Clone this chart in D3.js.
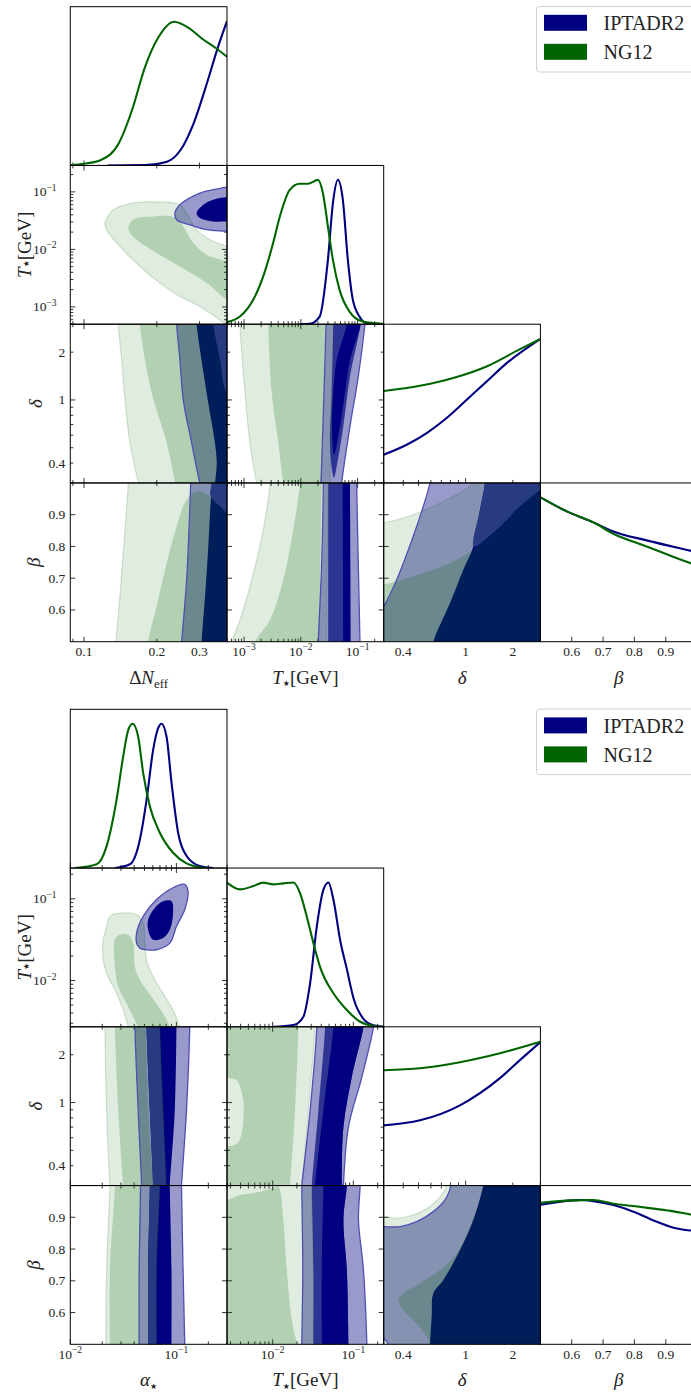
<!DOCTYPE html>
<html><head><meta charset="utf-8">
<script src="https://cdn.jsdelivr.net/npm/d3@7"></script>
<style>
body{margin:0;background:#fff;}
svg{display:block;}
text{font-family:"Liberation Serif","Times New Roman",serif;}
</style>
</head><body>
<script>
// ---------------- DATA ----------------
const seriesNames = ["IPTADR2", "NG12"];
const seriesColors = ["#000080", "#006400"];

// axis domains and tick labels
const A_dneffDomain = [0.0878, 0.39];
const A_tstarDomain = [5.01e-4, 0.288];
const deltaDomain = [0.3, 3.0];
const betaDomain = [0.5, 1.0];
const B_alphaDomain = [0.01, 0.3];
const B_tstarDomain = [0.002716, 0.2377];

const A_dneffLabels = [0.1, 0.2, 0.3];
const A_tstarLabels = [1e-3, 1e-2, 1e-1];
const deltaLabels = [0.4, 1, 2];
const betaLabels = [0.6, 0.7, 0.8, 0.9];
const B_alphaLabels = [1e-2, 1e-1];
const B_tstarLabels = [1e-2, 1e-1];

// ---- 1D marginals (value, normalised density) : plot A ----
const A_d0_blue = [[0.125,0],[0.1787,0.002],[0.2203,0.026],[0.2506,0.107],[0.2842,0.294],[0.3224,0.571],[0.3579,0.82],[0.39,1.0]];
const A_d0_green = [[0.0879,0.003],[0.1,0.012],[0.1176,0.038],[0.1395,0.156],[0.158,0.384],[0.1787,0.682],[0.2034,0.89],[0.2355,0.996],[0.2716,0.952],[0.309,0.876],[0.3504,0.814],[0.39,0.753]];
const A_d1_blue = [[0.00957,0],[0.01432,0.003],[0.02148,0.053],[0.03,0.446],[0.03673,0.839],[0.04498,1.0],[0.05495,0.862],[0.0673,0.446],[0.08241,0.169],[0.1079,0.053],[0.1416,0.007],[0.2754,0]];
const A_d1_green = [[0.000501,0.014],[0.000847,0.053],[0.00145,0.169],[0.00217,0.33],[0.00325,0.562],[0.00427,0.746],[0.00638,0.931],[0.00957,0.973],[0.01337,0.973],[0.02004,1.0],[0.02449,0.908],[0.03,0.677],[0.03673,0.446],[0.04808,0.238],[0.07211,0.087],[0.1233,0.018],[0.2767,0.002]];
const A_d2_blue = [[0.3,0.196],[0.4205,0.265],[0.5642,0.346],[0.7568,0.45],[1.016,0.576],[1.362,0.703],[1.828,0.83],[2.98,0.997]];
const A_d2_green = [[0.3,0.637],[0.511,0.673],[0.834,0.727],[1.36,0.807],[2.223,0.927],[2.98,0.997]];
const A_d3_blue = [[0.5,1.0],[0.584,0.903],[0.669,0.827],[0.733,0.764],[0.839,0.702],[0.978,0.631],[1.0,0.62]];
const A_d3_green = [[0.5,1.0],[0.584,0.903],[0.669,0.827],[0.733,0.748],[0.839,0.66],[0.978,0.545],[1.0,0.53]];

// ---- 1D marginals : plot B ----
const B_d0_blue = [[0.02636,0],[0.0365,0.026],[0.0453,0.198],[0.0524,0.474],[0.0604,0.819],[0.0673,0.969],[0.0724,1.0],[0.0807,0.912],[0.09,0.591],[0.1038,0.245],[0.1245,0.085],[0.166,0.014],[0.2213,0]];
const B_d0_green = [[0.01107,0],[0.0177,0.026],[0.022,0.152],[0.0273,0.474],[0.0315,0.772],[0.0352,0.958],[0.0387,1.0],[0.0436,0.912],[0.0486,0.659],[0.0562,0.428],[0.0698,0.245],[0.0931,0.106],[0.1245,0.032],[0.166,0.005],[0.2,0]];
const B_d1_blue = [[0.01019,0],[0.01807,0.012],[0.02404,0.07],[0.02911,0.302],[0.03524,0.696],[0.04266,0.952],[0.04909,1.0],[0.05662,0.88],[0.0686,0.6],[0.083,0.4],[0.1002,0.2],[0.1334,0.055],[0.1774,0.01],[0.2388,0]];
const B_d1_green = [[0.002716,0.999],[0.003936,0.952],[0.005754,0.975],[0.007656,0.999],[0.01019,0.987],[0.01358,0.994],[0.01807,1.0],[0.02188,0.925],[0.02649,0.763],[0.03206,0.577],[0.03873,0.414],[0.05662,0.232],[0.08299,0.116],[0.1213,0.035],[0.1774,0.005],[0.2388,0]];
const B_d2_blue = [[0.3,0.417],[0.512,0.452],[0.92,0.556],[1.655,0.744],[2.22,0.869],[3.0,0.994]];
const B_d2_green = [[0.3,0.799],[0.512,0.813],[0.92,0.855],[1.655,0.917],[3.0,0.997]];
const B_d3_blue = [[0.5,0.967],[0.602,0.997],[0.63,1.0],[0.669,0.992],[0.733,0.965],[0.797,0.919],[0.861,0.858],[0.925,0.808],[0.978,0.789],[1.0,0.785]];
const B_d3_green = [[0.5,0.981],[0.602,0.997],[0.669,1.0],[0.733,0.974],[0.797,0.958],[0.861,0.94],[0.925,0.921],[0.978,0.9],[1.0,0.892]];

// ---- 2D credible-region outlines (x value, y value) : plot A ----
const A10_g2 = [[0.1221,0.0287],[0.1322,0.0489],[0.1598,0.064],[0.2061,0.0666],[0.2492,0.0598],[0.2657,0.0429],[0.2922,0.022],[0.3317,0.0147],[0.39,0.01125],[0.45,0.009],[0.45,0.0003],[0.39,0.00048],[0.3015,0.00102],[0.2492,0.00152],[0.2061,0.0026],[0.1703,0.00505],[0.1408,0.01125],[0.1241,0.022]];
const A10_g1 = [[0.1524,0.0235],[0.1598,0.0328],[0.1934,0.0374],[0.2339,0.0365],[0.2572,0.0251],[0.2829,0.0129],[0.3214,0.00807],[0.39,0.00617],[0.45,0.005],[0.45,0.0011],[0.39,0.00133],[0.3214,0.0026],[0.2492,0.00505],[0.1997,0.00864],[0.1651,0.0147],[0.1549,0.0193]];
const A10_b2 = [[0.2377,0.0429],[0.2492,0.0598],[0.3015,0.0955],[0.3535,0.1121],[0.39,0.1214],[0.45,0.125],[0.45,0.019],[0.39,0.0205],[0.3214,0.022],[0.2742,0.0268],[0.2416,0.0328]];
const A10_b1 = [[0.2922,0.0429],[0.3112,0.0598],[0.3423,0.073],[0.39,0.0813],[0.45,0.082],[0.45,0.03],[0.39,0.0306],[0.3423,0.0306],[0.3015,0.0351]];

const A20_g2 = [[0.1386,3.5],[0.1386,3.0],[0.1431,1.789],[0.1477,1.002],[0.1549,0.5354],[0.1677,0.3],[0.17,0.27],[0.45,0.27],[0.45,3.5]];
const A20_g1 = [[0.1703,3.5],[0.1703,3.0],[0.1787,1.789],[0.1905,1.104],[0.2197,0.5354],[0.2377,0.3],[0.24,0.27],[0.45,0.27],[0.45,0.9],[0.39,1.104],[0.3648,1.789],[0.3423,3.0],[0.3423,3.5]];
const A20_b2 = [[0.2416,3.5],[0.2416,3.0],[0.2492,1.789],[0.2572,1.002],[0.2787,0.5354],[0.3015,0.3],[0.31,0.27],[0.45,0.27],[0.45,3.5]];
const A20_b1 = [[0.2922,3.5],[0.2922,3.0],[0.3214,1.104],[0.3535,0.42],[0.3479,0.3],[0.345,0.27],[0.45,0.27],[0.45,3.5]];
const A20_bm = [[0.3423,3.5],[0.3423,3.0],[0.3648,1.789],[0.39,1.104],[0.45,1.0],[0.45,3.5]];

const A30_g2 = [[0.1524,1.05],[0.1524,1.0],[0.1477,0.853],[0.1408,0.643],[0.1356,0.5],[0.135,0.45],[0.45,0.45],[0.45,1.05]];
const A30_g1 = [[0.1843,0.45],[0.1843,0.5],[0.1997,0.611],[0.2197,0.748],[0.2416,0.863],[0.2657,0.947],[0.2967,0.9735],[0.3317,0.9578],[0.3648,0.926],[0.39,0.9055],[0.45,0.87],[0.45,0.45]];
const A30_b2 = [[0.276,1.05],[0.276,1.0],[0.2716,0.853],[0.2657,0.695],[0.2533,0.5],[0.25,0.45],[0.45,0.45],[0.45,1.05]];
const A30_b1 = [[0.3371,1.05],[0.3371,1.0],[0.3317,0.9055],[0.3264,0.8],[0.3164,0.643],[0.3064,0.5],[0.305,0.45],[0.45,0.45],[0.45,1.05]];
const A30_bm = [[0.3371,1.05],[0.3371,1.0],[0.3332,0.96],[0.3648,0.926],[0.39,0.9055],[0.45,0.878],[0.45,1.05]];

const A21_g2 = [[0.000849,3.5],[0.000849,3.0],[0.00104,1.104],[0.00127,0.5354],[0.00167,0.3],[0.0018,0.27],[0.0326,0.27],[0.03261,0.3],[0.03494,1.104],[0.03728,3.0],[0.0375,3.5]];
const A21_g1 = [[0.00267,3.5],[0.00267,3.0],[0.00307,1.104],[0.00401,0.5354],[0.00491,0.3],[0.0052,0.27],[0.023,0.27],[0.0233,0.3],[0.02557,1.104],[0.02662,3.0],[0.0267,3.5]];
const A21_b2 = [[0.02773,3.5],[0.02773,3.0],[0.02557,1.104],[0.02264,0.3],[0.0224,0.27],[0.0515,0.27],[0.05241,0.3],[0.07335,0.681],[0.1027,1.404],[0.1348,3.0],[0.14,3.5]];
const A21_bm = [[0.03728,3.5],[0.03728,3.0],[0.03494,1.104],[0.03261,0.5354],[0.03537,0.3636],[0.03835,0.3238],[0.04279,0.3815],[0.05591,0.681],[0.07335,1.404],[0.1132,3.0],[0.115,3.5]];
const A21_b1 = [[0.06419,3.5],[0.06419,3.0],[0.04279,1.789],[0.03728,1.104],[0.0354,0.681],[0.0385,0.4519],[0.04891,0.681],[0.0599,1.104],[0.07335,1.789],[0.1132,3.0],[0.115,3.5]];

const A31_g2 = [[0.002864,1.05],[0.002864,1.0],[0.002183,0.853],[0.001364,0.695],[0.000849,0.569],[0.000606,0.5],[0.0005,0.45],[0.029,0.45],[0.02852,0.5],[0.03045,1.0],[0.031,1.05]];
const A31_g1 = [[0.00966,1.05],[0.00966,1.0],[0.00737,0.853],[0.00491,0.695],[0.002864,0.569],[0.00156,0.5],[0.0013,0.45],[0.021,0.45],[0.02113,0.5],[0.0233,1.0],[0.0234,1.05]];
const A31_b2 = [[0.02485,1.05],[0.02485,1.0],[0.0233,0.748],[0.0203,0.5],[0.02,0.45],[0.111,0.45],[0.11,0.5],[0.1027,0.748],[0.09627,1.0],[0.096,1.05]];
const A31_bm = [[0.03045,1.05],[0.03045,1.0],[0.0303,0.75],[0.0305,0.5],[0.0305,0.45],[0.06,0.45],[0.0599,0.5],[0.0595,0.75],[0.0599,1.0],[0.0599,1.05]];
const A31_b1 = [[0.05458,1.05],[0.05458,1.0],[0.0552,0.75],[0.05591,0.5],[0.056,0.45],[0.0757,0.45],[0.07543,0.5],[0.0745,0.75],[0.07335,1.0],[0.0733,1.05]];

const A32_g2 = [[0.27,0.87],[0.3,0.874],[0.4633,0.9],[0.7568,0.947],[1.119,1.0],[1.2,1.05],[3.5,1.05],[3.5,0.45],[0.27,0.45]];
const A32_g1 = [[0.27,0.675],[0.3,0.68],[0.4633,0.706],[0.7568,0.743],[1.119,0.79],[1.578,0.853],[2.223,0.926],[3.013,0.979],[3.5,1.0],[3.5,0.45],[0.27,0.45]];
const A32_b2 = [[0.27,0.58],[0.3,0.611],[0.3631,0.695],[0.4633,0.832],[0.5366,0.926],[0.5923,1.0],[0.61,1.05],[3.5,1.05],[3.5,0.45],[0.27,0.45]];
const A32_b1 = [[1.329,1.05],[1.329,1.0],[1.235,0.916],[1.119,0.8],[0.966,0.727],[0.7946,0.622],[0.6217,0.5],[0.6,0.45],[3.5,0.45],[3.5,1.05]];
const A32_bm = [[1.329,1.05],[1.329,1.0],[1.235,0.916],[1.13,0.8],[1.578,0.853],[2.223,0.926],[3.013,0.979],[3.5,1.0],[3.5,1.05]];

// ---- 2D credible-region outlines : plot B ----
const B10_g2 = [[0.022,0.046],[0.02363,0.061],[0.03152,0.0672],[0.04214,0.0641],[0.04861,0.0506],[0.05044,0.0315],[0.05233,0.0179],[0.06037,0.0112],[0.07497,0.00697],[0.09311,0.00435],[0.1076,0.00271],[0.1156,0.00204],[0.03645,0.00204],[0.03513,0.00271],[0.03152,0.00435],[0.02732,0.00697],[0.022,0.0123],[0.02043,0.0179],[0.02043,0.0315]];
const B10_g1 = [[0.02634,0.0315],[0.02934,0.0363],[0.03513,0.0363],[0.03915,0.0287],[0.04062,0.0148],[0.04525,0.01016],[0.05833,0.00633],[0.07497,0.00396],[0.08668,0.00271],[0.08994,0.00204],[0.04861,0.00204],[0.04361,0.00271],[0.03513,0.00477],[0.02829,0.00841],[0.02634,0.0148]];
const B10_b2 = [[0.04214,0.0287],[0.04214,0.0381],[0.04861,0.061],[0.06499,0.098],[0.09311,0.1364],[0.1199,0.1498],[0.1288,0.1239],[0.1199,0.0738],[0.1002,0.046],[0.08668,0.0287],[0.06499,0.0238],[0.05233,0.0238],[0.04525,0.0249]];
const B10_b1 = [[0.05417,0.0419],[0.05417,0.0556],[0.06264,0.0774],[0.07497,0.0933],[0.08994,0.0933],[0.09311,0.0672],[0.08668,0.0419],[0.07497,0.0331],[0.06037,0.0315]];

const B20_g2 = [[0.02121,3.5],[0.02121,3.0],[0.022,0.893],[0.02363,0.3],[0.024,0.27],[0.0815,0.27],[0.08067,0.3],[0.07497,0.893],[0.06982,3.0],[0.0695,3.5]];
const B20_g1 = [[0.02634,3.5],[0.02634,3.0],[0.02829,0.893],[0.03152,0.3],[0.032,0.27],[0.0608,0.27],[0.06037,0.3],[0.05417,0.893],[0.05156,3.0],[0.0514,3.5]];
const B20_b2 = [[0.04062,3.5],[0.04062,3.0],[0.04361,0.893],[0.04696,0.3],[0.047,0.27],[0.111,0.27],[0.1117,0.3],[0.1245,0.893],[0.1337,3.0],[0.134,3.5]];
const B20_b1 = [[0.05233,3.5],[0.05233,3.0],[0.0562,0.893],[0.06037,0.3],[0.0605,0.27],[0.0865,0.27],[0.08668,0.3],[0.09661,0.893],[0.1002,3.0],[0.1005,3.5]];
const B20_bm = [[0.05233,3.5],[0.05233,3.0],[0.0562,0.893],[0.06037,0.3],[0.0605,0.27],[0.0815,0.27],[0.08067,0.3],[0.07497,0.893],[0.06982,3.0],[0.0695,3.5]];

const B30_g2 = [[0.02363,1.05],[0.02363,1.0],[0.022,0.7337],[0.02167,0.5],[0.0216,0.45],[0.065,0.45],[0.06499,0.5],[0.06499,0.7337],[0.06982,1.0],[0.07,1.05]];
const B30_g1 = [[0.02634,1.05],[0.02634,1.0],[0.02363,0.7337],[0.02363,0.5],[0.0236,0.45],[0.04525,0.45],[0.04525,0.5],[0.04525,0.7337],[0.04696,1.0],[0.047,1.05]];
const B30_b2 = [[0.04594,1.05],[0.04594,1.0],[0.04457,0.7337],[0.04457,0.5],[0.0445,0.45],[0.12,0.45],[0.1199,0.5],[0.1156,0.7337],[0.1117,1.0],[0.111,1.05]];
const B30_b1 = [[0.0562,1.05],[0.0562,1.0],[0.05417,0.7337],[0.05417,0.5],[0.0541,0.45],[0.09,0.45],[0.08994,0.5],[0.08994,0.7337],[0.08668,1.0],[0.0865,1.05]];
const B30_bm = [[0.0562,1.05],[0.0562,1.0],[0.05417,0.7337],[0.05417,0.5],[0.0541,0.45],[0.065,0.45],[0.06499,0.5],[0.06499,0.7337],[0.06982,1.0],[0.07,1.05]];

const B21_g2 = [[0.0022,3.5],[0.03357,3.5],[0.03357,3.0],[0.02771,0.893],[0.02295,0.3],[0.0225,0.27],[0.0022,0.27]];
const B21_g1 = [[0.0022,3.5],[0.0209,3.5],[0.02083,3.0],[0.01895,0.893],[0.01642,0.3],[0.0162,0.27],[0.0022,0.27]];
const B21_g1hole = [[0.0024,1.5],[0.0029,1.43],[0.003583,1.381],[0.004253,1.083],[0.004326,0.772],[0.003752,0.5628],[0.0029,0.53],[0.0024,0.52]];
const B21_b2 = [[0.03523,3.5],[0.03523,3.0],[0.0291,0.893],[0.02295,0.3],[0.0225,0.27],[0.075,0.27],[0.0753,0.3],[0.08686,0.7004],[0.1274,1.449],[0.1774,3.0],[0.18,3.5]];
const B21_bm = [[0.04466,3.5],[0.04466,3.0],[0.03688,0.893],[0.03054,0.3],[0.0303,0.27],[0.0718,0.27],[0.07194,0.3],[0.0753,0.7004],[0.09574,1.449],[0.1334,3.0],[0.135,3.5]];
const B21_b1 = [[0.0566,3.5],[0.0566,3.0],[0.04254,0.893],[0.03357,0.3],[0.0334,0.27],[0.0718,0.27],[0.07194,0.3],[0.0753,0.7004],[0.09574,1.449],[0.1334,3.0],[0.135,3.5]];

const B31_g2 = [[0.0022,1.05],[0.0315,1.05],[0.03054,1.0],[0.03197,0.7337],[0.03197,0.5],[0.032,0.45],[0.0022,0.45]];
const B31_g1 = [[0.0022,0.954],[0.002716,0.9548],[0.003939,0.9706],[0.005758,0.976],[0.008445,0.9864],[0.01176,0.9968],[0.01235,0.9864],[0.01357,0.8917],[0.01495,0.7337],[0.01725,0.5758],[0.01989,0.5],[0.0205,0.45],[0.0022,0.45]];
const B31_b2 = [[0.02295,1.05],[0.02295,1.0],[0.02361,0.7337],[0.02295,0.5],[0.0229,0.45],[0.148,0.45],[0.147,0.5],[0.1334,0.7337],[0.1156,0.8917],[0.1214,1.0],[0.122,1.05]];
const B31_bm = [[0.03054,1.05],[0.03054,1.0],[0.03197,0.7337],[0.03197,0.5],[0.032,0.45],[0.087,0.45],[0.08686,0.5],[0.08301,0.7337],[0.0753,0.8917],[0.08301,1.0],[0.083,1.05]];
const B31_b1 = [[0.04254,1.05],[0.04254,1.0],[0.04063,0.7337],[0.04063,0.5],[0.0406,0.45],[0.087,0.45],[0.08686,0.5],[0.08301,0.7337],[0.0753,0.8917],[0.08301,1.0],[0.083,1.05]];

const B32_g2 = [[0.27,0.9],[0.3,0.9021],[0.3631,0.897],[0.4633,0.9075],[0.5923,0.9337],[0.7034,0.9706],[0.7568,1.0],[0.78,1.05],[3.5,1.05],[3.5,0.45],[0.27,0.45]];
const B32_b2 = [[0.27,0.87],[0.3,0.8705],[0.3811,0.8705],[0.4871,0.8863],[0.6217,0.9179],[0.7383,0.9548],[0.8064,1.0],[0.83,1.05],[3.5,1.05],[3.5,0.45],[0.33,0.45],[0.3209,0.5],[0.3,0.518],[0.27,0.53]];
const B32_g1 = [[1.33,1.05],[1.296,1.0],[1.235,0.9548],[1.066,0.8705],[0.8768,0.7864],[0.6859,0.7337],[0.5113,0.6917],[0.4,0.6601],[0.3716,0.639],[0.4,0.6074],[0.4871,0.5654],[0.5642,0.5231],[0.5923,0.5],[0.6,0.45],[3.5,0.45],[3.5,1.05]];
const B32_b1 = [[1.33,1.05],[1.296,1.0],[1.119,0.8917],[0.9203,0.7969],[0.7201,0.7022],[0.6217,0.6601],[0.6071,0.5862],[0.5923,0.5],[0.59,0.45],[3.5,0.45],[3.5,1.05]];

// ---------------- CONFIG ----------------
const plotA = {
  top: 6.7,
  params: [
    {type:"log", domain:A_dneffDomain, labels:A_dneffLabels, fmt:"plain"},
    {type:"log", domain:A_tstarDomain, labels:A_tstarLabels, fmt:"exp"},
    {type:"log", domain:deltaDomain, labels:deltaLabels, fmt:"plain"},
    {type:"lin", domain:betaDomain, labels:betaLabels, fmt:"plain"}
  ],
  names: [
    [{t:"Δ"},{t:"N",i:1},{t:"eff",sub:1}],
    [{t:"T",i:1},{t:"★",sub:1,star:1},{t:"[GeV]"}],
    [{t:"δ",i:1}],
    [{t:"β",i:1}]
  ],
  ylabX: [0, 23.5, 35, 33],
  diag: [[A_d0_blue,A_d0_green],[A_d1_blue,A_d1_green],[A_d2_blue,A_d2_green],[A_d3_blue,A_d3_green]],
  panels: [
    {r:1,c:0,layers:[["b2",A10_b2],["b1",A10_b1],["g2",A10_g2],["g1",A10_g1]]},
    {r:2,c:0,layers:[["b2",A20_b2],["b1",A20_b1],["bm",A20_bm],["g2",A20_g2],["g1",A20_g1]]},
    {r:3,c:0,layers:[["b2",A30_b2],["b1",A30_b1],["bm",A30_bm],["g2",A30_g2],["g1",A30_g1]]},
    {r:2,c:1,layers:[["b2",A21_b2],["bm",A21_bm],["b1",A21_b1],["g2",A21_g2],["g1",A21_g1]]},
    {r:3,c:1,layers:[["b2",A31_b2],["bm",A31_bm],["b1",A31_b1],["g2",A31_g2],["g1",A31_g1]]},
    {r:3,c:2,layers:[["b2",A32_b2],["b1",A32_b1],["bm",A32_bm],["g2",A32_g2],["g1",A32_g1]]}
  ]
};
const plotB = {
  top: 709.3,
  params: [
    {type:"log", domain:B_alphaDomain, labels:B_alphaLabels, fmt:"exp"},
    {type:"log", domain:B_tstarDomain, labels:B_tstarLabels, fmt:"exp"},
    {type:"log", domain:deltaDomain, labels:deltaLabels, fmt:"plain"},
    {type:"lin", domain:betaDomain, labels:betaLabels, fmt:"plain"}
  ],
  names: [
    [{t:"α",i:1},{t:"★",sub:1,star:1}],
    [{t:"T",i:1},{t:"★",sub:1,star:1},{t:"[GeV]"}],
    [{t:"δ",i:1}],
    [{t:"β",i:1}]
  ],
  ylabX: [0, 23.5, 35, 33],
  diag: [[B_d0_blue,B_d0_green],[B_d1_blue,B_d1_green],[B_d2_blue,B_d2_green],[B_d3_blue,B_d3_green]],
  panels: [
    {r:1,c:0,layers:[["b2",B10_b2],["b1",B10_b1],["g2",B10_g2],["g1",B10_g1]]},
    {r:2,c:0,layers:[["b2",B20_b2],["b1",B20_b1],["bm",B20_bm],["g2",B20_g2],["g1",B20_g1]]},
    {r:3,c:0,layers:[["b2",B30_b2],["b1",B30_b1],["bm",B30_bm],["g2",B30_g2],["g1",B30_g1]]},
    {r:2,c:1,layers:[["b2",B21_b2],["bm",B21_bm],["b1",B21_b1],["g2",B21_g2],["g1",B21_g1,B21_g1hole]]},
    {r:3,c:1,layers:[["b2",B31_b2],["bm",B31_bm],["b1",B31_b1],["g2",B31_g2],["g1",B31_g1]]},
    {r:3,c:2,layers:[["b2",B32_b2],["b1",B32_b1],["g2",B32_g2],["g1",B32_g1]]}
  ]
};

// ---------------- DRAWING ----------------
const W = 691, H = 1394;
const GX = 70.3, CW = 156.7, RH = 158.75;
const FONT = "Liberation Serif";
const svg = d3.select("body").append("svg").attr("width", W).attr("height", H)
  .attr("font-family", FONT);
svg.append("rect").attr("width", W).attr("height", H).attr("fill", "#fff");
const defs = svg.append("defs");
let clipN = 0;

const STY = {
  b2: {fill:"#9999cc"},
  bm: {fill:"#2e3494"},
  b1: {fill:"#000080"},
  g2: {fill:"#006400", "fill-opacity":0.125, stroke:"#006400", "stroke-opacity":0.16, "stroke-width":1.2},
  g1: {fill:"#006400", "fill-opacity":0.2}
};

function mkScale(p, range) {
  return (p.type === "log" ? d3.scaleLog() : d3.scaleLinear()).domain(p.domain).range(range);
}
function tickList(p) {
  if (p.type === "lin") return p.labels.map(v => ({v, major:true}));
  const out = [], a = p.domain[0], b = p.domain[1];
  for (let e = Math.floor(Math.log10(a)); e <= Math.ceil(Math.log10(b)); e++) {
    for (let m = 1; m <= 9; m++) {
      const v = m * Math.pow(10, e);
      if (v >= a * 0.995 && v <= b * 1.005) out.push({v, major: m === 1});
    }
  }
  return out;
}
function fillLabel(sel, v, fmt) {
  if (fmt === "exp") {
    const e = Math.round(Math.log10(v));
    sel.append("tspan").attr("font-family", FONT).text("10");
    sel.append("tspan").attr("font-family", FONT).attr("dy", -5.5).attr("font-size", 9.5).text("−" + Math.abs(e));
  } else {
    sel.text(String(v));
  }
}
function richText(sel, parts, size) {
  let shift = 0;
  parts.forEach(p => {
    const want = p.sub ? size * (p.star ? 0.12 : 0.22) : 0;
    const t = sel.append("tspan").text(p.t).attr("dy", want - shift);
    shift = want;
    t.attr("font-family", p.star ? "DejaVu Sans" : FONT);
    if (p.i) t.attr("font-style", "italic");
    if (p.sub) t.attr("font-size", size * (p.star ? 0.42 : 0.68));
  });
}
function clipRect(x, y, w, h) {
  const id = "cp" + (clipN++);
  defs.append("clipPath").attr("id", id).append("rect").attr("x", x).attr("y", y).attr("width", w).attr("height", h);
  return `url(#${id})`;
}

function drawPlot(P) {
  const g = svg.append("g");
  const bottom = P.top + 4 * RH;
  const tickG = g.append("g").attr("stroke", "#000").attr("stroke-width", 0.8);

  // 2D panels
  P.panels.forEach(pn => {
    const x0 = GX + pn.c * CW, y0 = P.top + pn.r * RH;
    const xs = mkScale(P.params[pn.c], [x0, x0 + CW]);
    const ys = mkScale(P.params[pn.r], [y0 + RH, y0]);
    const pg = g.append("g").attr("clip-path", clipRect(x0, y0, CW, RH));
    const line = d3.line().x(d => xs(d[0])).y(d => ys(d[1])).curve(d3.curveCatmullRomClosed.alpha(0.5));
    let b2path = null;
    pn.layers.forEach(([k, pts, hole]) => {
      let d = line(pts);
      if (hole) d += line(hole);
      const el = pg.append("path").attr("d", d).attr("fill-rule", "evenodd");
      Object.entries(STY[k]).forEach(([a, v]) => el.attr(a, v));
      if (k === "b2") b2path = d;
    });
    if (b2path) pg.append("path").attr("d", b2path).attr("fill", "none")
      .attr("stroke", "#4f4fb3").attr("stroke-width", 1.3);
  });

  // diagonal 1D panels
  P.diag.forEach((curves, i) => {
    const x0 = GX + i * CW, y0 = P.top + i * RH;
    const xs = mkScale(P.params[i], [x0, x0 + CW]);
    const ys = d3.scaleLinear().domain([0, 1.1]).range([y0 + RH, y0]);
    const pg = g.append("g").attr("clip-path", clipRect(x0, y0 - 2, CW, RH + 2));
    const line = d3.line().x(d => xs(d[0])).y(d => ys(d[1])).curve(d3.curveMonotoneX);
    curves.forEach((data, s) => {
      pg.append("path").attr("d", line(data)).attr("fill", "none")
        .attr("stroke", seriesColors[s]).attr("stroke-width", 2.1);
    });
  });

  // frames and ticks
  for (let r = 0; r < 4; r++) {
    for (let c = 0; c <= r; c++) {
      const x0 = GX + c * CW, y0 = P.top + r * RH;
      const xs = mkScale(P.params[c], [x0, x0 + CW]);
      const isDiag = r === c;
      tickList(P.params[c]).forEach(t => {
        const x = xs(t.v), L = t.major ? 5 : 3;
        tickG.append("line").attr("x1", x).attr("x2", x).attr("y1", y0 + RH).attr("y2", y0 + RH - L);
        if (!isDiag) tickG.append("line").attr("x1", x).attr("x2", x).attr("y1", y0).attr("y2", y0 + L);
      });
      if (!isDiag) {
        const ys = mkScale(P.params[r], [y0 + RH, y0]);
        tickList(P.params[r]).forEach(t => {
          const y = ys(t.v), L = t.major ? 5 : 3;
          tickG.append("line").attr("x1", x0).attr("x2", x0 + L).attr("y1", y).attr("y2", y);
          tickG.append("line").attr("x1", x0 + CW).attr("x2", x0 + CW - L).attr("y1", y).attr("y2", y);
        });
      }
      g.append("rect").attr("x", x0).attr("y", y0).attr("width", CW).attr("height", RH)
        .attr("fill", "none").attr("stroke", "#000").attr("stroke-width", 1);
    }
  }

  // tick labels: x on bottom row
  for (let c = 0; c < 4; c++) {
    const p = P.params[c];
    const xs = mkScale(p, [GX + c * CW, GX + (c + 1) * CW]);
    p.labels.forEach(v => {
      const t = g.append("text").attr("x", xs(v)).attr("y", bottom + 14.2)
        .attr("text-anchor", "middle").attr("font-size", 13.5).attr("fill", "#222")
        .attr("font-family", FONT);
      fillLabel(t, v, p.fmt);
    });
    const lab = g.append("text").attr("x", GX + (c + 0.5) * CW).attr("y", bottom + 42)
      .attr("text-anchor", "middle").attr("font-size", 19).attr("fill", "#222")
      .attr("font-family", FONT);
    richText(lab, P.names[c], 19);
  }
  // tick labels: y on left column
  for (let r = 1; r < 4; r++) {
    const p = P.params[r];
    const y0 = P.top + r * RH;
    const ys = mkScale(p, [y0 + RH, y0]);
    p.labels.forEach(v => {
      const t = g.append("text").attr("x", p.fmt === "exp" ? 56.5 : 65.3).attr("y", ys(v) + 4.5)
        .attr("text-anchor", "end").attr("font-size", 13.5).attr("fill", "#222")
        .attr("font-family", FONT);
      fillLabel(t, v, p.fmt);
    });
    const lab = g.append("text")
      .attr("transform", `translate(${P.ylabX[r]},${y0 + RH / 2}) rotate(-90)`)
      .attr("text-anchor", "middle").attr("dominant-baseline", "central")
      .attr("font-size", 19).attr("fill", "#222").attr("font-family", FONT);
    richText(lab, P.names[r], 19);
  }

  // legend
  const ly = P.top - 0.2;
  const lg = g.append("g");
  lg.append("rect").attr("x", 536.5).attr("y", ly).attr("width", 170).attr("height", 65.5).attr("rx", 3)
    .attr("fill", "#fff").attr("fill-opacity", 0.8).attr("stroke", "#d0d0d0").attr("stroke-width", 1);
  seriesNames.forEach((nm, s) => {
    lg.append("rect").attr("x", 544).attr("y", ly + 8.3 + s * 29).attr("width", 43).attr("height", 16)
      .attr("fill", seriesColors[s]);
    lg.append("text").attr("x", 603.5).attr("y", ly + 23.5 + s * 29).attr("font-size", 20)
      .attr("font-family", FONT).attr("fill", "#222").text(nm);
  });
}

drawPlot(plotA);
drawPlot(plotB);
</script>
</body></html>
